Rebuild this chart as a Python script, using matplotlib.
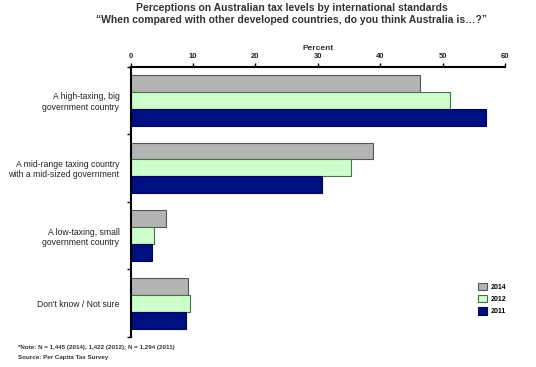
import matplotlib.pyplot as plt
import numpy as np

plt.rcParams['font.family'] = ['Liberation Sans', 'DejaVu Sans']

categories = ["A high-taxing, big\ngovernment country",
              "A mid-range taxing country\nwith a mid-sized government",
              "A low-taxing, small\ngovernment country",
              "Don't know / Not sure"]
years = ["2014", "2012", "2011"]
v2014 = [46.4, 38.8, 5.7, 9.2]
v2012 = [51.2, 35.3, 3.7, 9.6]
v2011 = [57.0, 30.7, 3.4, 8.9]
ticks = [0, 10, 20, 30, 40, 50, 60]

fills = ["#b4b4b4", "#ccffcc", "#000f80"]
edges = ["#555555", "#4d6b4d", "#00084a"]

fig = plt.figure(figsize=(5.36, 3.67), dpi=100)
ax = fig.add_axes([130.5 / 536, 1 - 337 / 367, (505 - 130.5) / 536, (337 - 66.5) / 367])

pos = np.arange(len(categories))
h = 0.25
for i, vals in enumerate([v2014, v2012, v2011]):
    ax.barh(pos - h + i * h, vals, height=h, color=fills[i], edgecolor=edges[i],
            linewidth=0.8, label=years[i])

ax.set_xlim(0, 60)
ax.set_ylim(len(categories) - 0.5, -0.5)
ax.xaxis.tick_top()
ax.xaxis.set_label_position('top')
ax.set_xticks(ticks)
ax.tick_params(axis='x', labelsize=5.5, length=3, width=1, pad=2, labelcolor='#222222')
for t in ax.get_xticklabels():
    t.set_fontweight('bold')
ax.set_xlabel("Percent", fontsize=6, fontweight='bold', color='#333333', labelpad=2)

ax.set_yticks(np.arange(-0.5, len(categories), 1.0))
ax.set_yticklabels([])
ax.set_yticks(pos, minor=True)
ax.set_yticklabels(categories, minor=True, fontsize=6.2, color='#222222')
ax.tick_params(axis='y', which='major', length=3, width=1)
ax.tick_params(axis='y', which='minor', length=0, pad=8)

for s in ['right', 'bottom']:
    ax.spines[s].set_visible(False)
for s in ['left', 'top']:
    ax.spines[s].set_linewidth(1.5)

fig.text(292 / 536, 1 - 8 / 367, "Perceptions on Australian tax levels by international standards",
         ha='center', va='center', fontsize=7.5, fontweight='bold', color='#333333')
fig.text(292 / 536, 1 - 20 / 367, "\u201cWhen compared with other developed countries, do you think Australia is\u2026?\u201d",
         ha='center', va='center', fontsize=7.5, fontweight='bold', color='#333333')

fig.text(18 / 536, 1 - 348 / 367, "*Note: N = 1,445 (2014), 1,422 (2012); N = 1,294 (2011)",
         fontsize=4.5, fontweight='bold', color='#333333', va='center')
fig.text(18 / 536, 1 - 357 / 367, "Source: Per Capita Tax Survey",
         fontsize=4.5, fontweight='bold', color='#333333', va='center')

leg = fig.legend(loc='upper left', bbox_to_anchor=(472 / 536, 1 - 277 / 367), frameon=False,
                 fontsize=5, handlelength=1.2, handleheight=1.2, labelspacing=0.6, handletextpad=0.6)
for t in leg.get_texts():
    t.set_fontweight('bold')

fig.savefig("out.png", dpi=100)
